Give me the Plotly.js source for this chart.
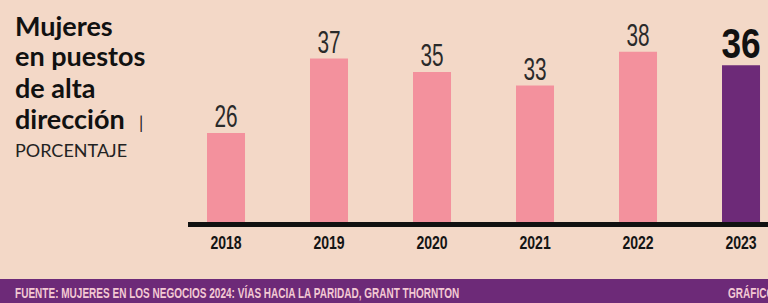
<!DOCTYPE html>
<html>
<head>
<meta charset="utf-8">
<script src="https://cdn.plot.ly/plotly-3.0.1.min.js"></script>
<style>
  html, body { margin: 0; padding: 0; background: #f3d8c7; }
  #chart { width: 768px; height: 303px; }
</style>
</head>
<body>
<div id="chart"></div>
<script>
// ---- Data ----
const years = ['2018', '2019', '2020', '2021', '2022', '2023'];
const values = [26, 37, 35, 33, 38, 36];
const highlightYear = '2023';

const titleLines = ['Mujeres', 'en puestos', 'de alta', 'dirección'];
const subtitle = 'PORCENTAJE';
const sourceText = 'FUENTE: MUJERES EN LOS NEGOCIOS 2024: VÍAS HACIA LA PARIDAD, GRANT THORNTON';
const creditText = 'GRÁFICO';

// ---- Styles ----
const BG = '#f3d8c7';
const PINK = '#f3919d';
const PURPLE = '#6d2a78';
const NUMFONT = '"Liberation Sans", Arial, sans-serif';
const TITLEFONT = 'Lato, "Noto Sans", sans-serif';
const PLOT_TOP = 10, PLOT_BOTTOM = 222, PLOT_H = PLOT_BOTTOM - PLOT_TOP;
const py = px => (PLOT_BOTTOM - px) / PLOT_H;   // pixel row -> paper y

const isHi = years.map(y => y === highlightYear);

const trace = {
  type: 'bar',
  x: years,
  y: values,
  marker: { color: isHi.map(h => h ? PURPLE : PINK), line: { width: 0 } },
  texttemplate: '%{y}',
  textposition: 'outside',
  constraintext: 'none',
  cliponaxis: false,
  textfont: {
    family: NUMFONT,
    size: isHi.map(h => h ? 42 : 32),
    color: isHi.map(h => h ? '#111111' : '#2a2a2a'),
    weight: isHi.map(h => h ? 700 : 400)
  },
  hoverinfo: 'skip'
};

const titleCenters = [25, 56, 87, 118];
const annotations = titleLines.map((line, i) => ({
  xref: 'paper', yref: 'paper', x: -0.302, y: py(titleCenters[i]),
  xanchor: 'left', yanchor: 'middle', align: 'left', showarrow: false,
  text: '<b>' + line + '</b>',
  font: { family: TITLEFONT, size: 27, color: '#111111', weight: 700 }
}));
annotations.push(
  {
    xref: 'paper', yref: 'paper', x: (137 - 188) / 580, y: py(123),
    xanchor: 'left', yanchor: 'middle', showarrow: false, text: '|',
    font: { family: TITLEFONT, size: 17, color: '#222222' }
  },
  {
    xref: 'paper', yref: 'paper', x: -0.302, y: py(150), xanchor: 'left', yanchor: 'middle',
    showarrow: false, text: subtitle,
    font: { family: TITLEFONT, size: 18, color: '#222222' }
  },
  {
    xref: 'paper', yref: 'paper', x: -0.302, y: py(292), xanchor: 'left', yanchor: 'middle',
    showarrow: false, text: sourceText,
    font: { family: NUMFONT, size: 15, color: '#f3c9d3', weight: 700 }
  },
  {
    xref: 'paper', yref: 'paper', x: (726 - 188) / 580, y: py(292), xanchor: 'left', yanchor: 'middle',
    showarrow: false, text: creditText,
    font: { family: NUMFONT, size: 15, color: '#f3c9d3', weight: 700 }
  }
);
const FOOT_IDX = annotations.length - 2;

const shapes = [
  {
    type: 'rect', xref: 'paper', yref: 'paper', x0: -0.4, x1: 1.05, y0: py(279), y1: py(310),
    fillcolor: PURPLE, line: { width: 0 }, layer: 'below'
  }
];

const layout = {
  width: 768, height: 303,
  margin: { l: 188, r: 0, t: PLOT_TOP, b: 303 - PLOT_BOTTOM, pad: 0 },
  paper_bgcolor: BG, plot_bgcolor: BG,
  showlegend: false,
  bargap: 0.631,
  xaxis: {
    type: 'category',
    range: [-0.369, 5.262],
    showline: true, linecolor: '#111111', linewidth: 5,
    showgrid: false, zeroline: false, ticks: '',
    tickfont: { family: NUMFONT, size: 19, color: '#141414', weight: 700 },
    fixedrange: true
  },
  yaxis: {
    range: [12.8, 44.2],
    showgrid: false, zeroline: false, showline: false,
    showticklabels: false, ticks: '', fixedrange: true
  },
  annotations: annotations,
  shapes: shapes
};

// horizontally condense a text element (imitates the condensed typeface)
function squeeze(el, sx, dy, anchorLeft) {
  const bb = el.getBBox();
  const cx = anchorLeft ? bb.x : bb.x + bb.width / 2;
  const cy = bb.y + bb.height / 2;
  const orig = el.getAttribute('transform') || '';
  el.setAttribute('transform',
    orig + ' translate(' + cx + ',' + (cy + dy) + ') scale(' + sx + ',1) translate(' + (-cx) + ',' + (-cy) + ')');
}

Plotly.newPlot('chart', [trace], layout, { staticPlot: true, displayModeBar: false }).then(gd => {
  gd.querySelectorAll('.bartext').forEach((el, i) => {
    squeeze(el, isHi[i] ? 0.84 : 0.65, isHi[i] ? 5 : 4, false);
  });
  gd.querySelectorAll('.xtick text').forEach(el => squeeze(el, 0.74, -1, false));
  [FOOT_IDX, FOOT_IDX + 1].forEach(k => {
    const t = gd.querySelector('g.annotation[data-index="' + k + '"] text');
    if (t) squeeze(t, 0.668, 0, true);
  });
});
</script>
</body>
</html>
